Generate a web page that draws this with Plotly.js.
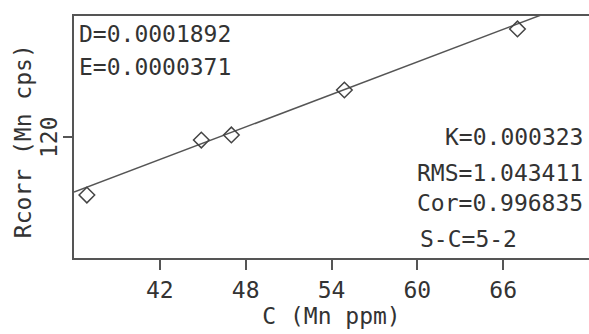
<!DOCTYPE html>
<html>
<head>
<meta charset="utf-8">
<script src="https://cdn.plot.ly/plotly-3.0.1.min.js"></script>
<style>html,body{margin:0;padding:0;background:#fff;}#chart{width:589px;height:334px;}</style>
</head>
<body>
<div id="chart"></div>
<script>
// Measured standards: concentration C (Mn ppm) vs corrected intensity Rcorr (Mn cps)
const concC = [36.9, 44.9, 47.0, 54.9, 67.0];
const rcorr = [91.2, 118.5, 121.0, 143.3, 173.6];
// Calibration fit line (end points across the axis range)
const fitX = [36, 72];
const fitY = [92.7, 189.5];
const xTicks = [42, 48, 54, 60, 66];
const yTicks = [120];
const statsLeft = ["D=0.0001892", "E=0.0000371"];
const statsRight = ["K=0.000323", "RMS=1.043411", "Cor=0.996835"];
const statsSC = "S-C=5-2";
const yTitle = "Rcorr (Mn cps)";
const xTitle = "C (Mn ppm)";

const F = "DejaVu Sans Mono, monospace";
const TXT = "#333";
const AX = "#555";

const traces = [
  {x: fitX, y: fitY, mode: "lines", line: {color: "#555", width: 1.5}, hoverinfo: "skip"},
  {x: concC, y: rcorr, mode: "markers",
   marker: {symbol: "diamond-open", size: 12, color: "#444", line: {width: 1.5, color: "#444"}}}
];

const leftY = [0.925, 0.789];
const rightY = [0.498, 0.351, 0.227];
const ann = [];
statsLeft.forEach((t, i) => ann.push({text: t, xref: "paper", yref: "paper", x: 0.006, y: leftY[i],
  xanchor: "left", yanchor: "middle", showarrow: false, font: {family: F, size: 23, color: TXT}}));
statsRight.forEach((t, i) => ann.push({text: t, xref: "paper", yref: "paper", x: 0.992, y: rightY[i],
  xanchor: "right", yanchor: "middle", showarrow: false, font: {family: F, size: 23, color: TXT}}));
ann.push({text: statsSC, xref: "paper", yref: "paper", x: 0.668, y: 0.080,
  xanchor: "left", yanchor: "middle", showarrow: false, font: {family: F, size: 23, color: TXT}});
ann.push({text: yTitle, xref: "paper", yref: "paper", x: -0.099, y: 0.483, textangle: -90,
  xanchor: "center", yanchor: "middle", showarrow: false, font: {family: F, size: 23, color: TXT}});
// tick label for the y axis, placed beside its tick
yTicks.forEach(v => ann.push({text: String(v), xref: "paper", yref: "y", x: -0.0485, y: v, textangle: -90,
  xanchor: "center", yanchor: "middle", showarrow: false, font: {family: F, size: 23, color: TXT}}));

const layout = {
  width: 589, height: 334,
  margin: {l: 74, r: 0, t: 16, b: 76, pad: 0},
  paper_bgcolor: "#fff", plot_bgcolor: "#fff",
  showlegend: false,
  font: {family: F, size: 23, color: TXT},
  xaxis: {
    range: [36, 72], tickvals: xTicks, ticktext: xTicks.map(String),
    showgrid: false, zeroline: false,
    showline: true, mirror: true, linecolor: AX, linewidth: 2,
    ticks: "outside", ticklen: 10, tickwidth: 2, tickcolor: AX,
    tickfont: {family: F, size: 23, color: TXT},
    title: {text: xTitle, font: {family: F, size: 23, color: TXT}, standoff: 4}
  },
  yaxis: {
    range: [60, 180], tickvals: yTicks, showticklabels: false,
    showgrid: false, zeroline: false,
    showline: true, mirror: false, linecolor: AX, linewidth: 2,
    ticks: "outside", ticklen: 9, tickwidth: 2, tickcolor: AX
  },
  annotations: ann
};

Plotly.newPlot("chart", traces, layout, {staticPlot: true, displayModeBar: false});
</script>
</body>
</html>
